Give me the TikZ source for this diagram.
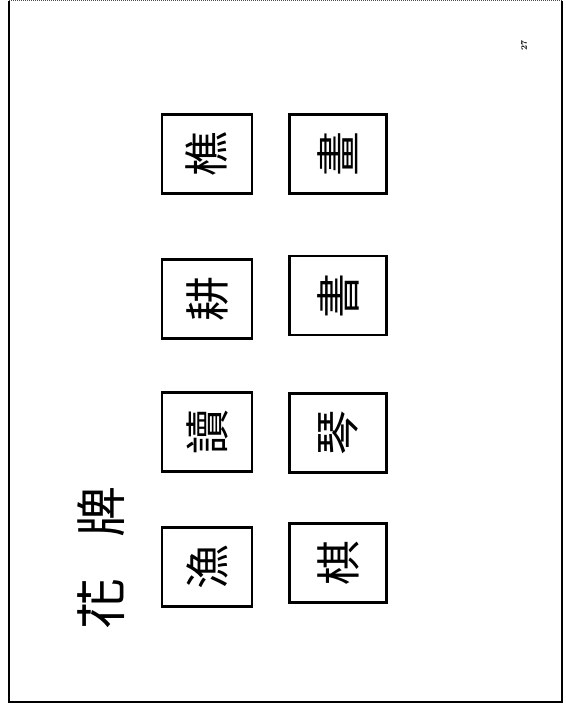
\documentclass[tikz,border=0pt]{standalone}
\usepackage{fontspec}
\newfontfamily\cjk{Noto Sans CJK TC}
\begin{document}
\begin{tikzpicture}[x=1pt,y=1pt,
  card/.style={draw=black, line width=2.2pt, fill=white, inner sep=0pt, rotate=90,
    font=\cjk\fontsize{45}{45}\selectfont},
  cardA/.style={card, minimum width=79pt, minimum height=90pt},
  cardB/.style={card, minimum width=79pt, minimum height=97pt},
  titlech/.style={rotate=90, inner sep=0pt, font=\cjk\fontsize{51}{51}\selectfont},
  pagenum/.style={rotate=90, inner sep=0pt, font=\bfseries\fontsize{8.5}{8.5}\selectfont},
  frame/.style={draw=black, line width=1.6pt}
]
\useasboundingbox (0,0) rectangle (565,-709);
\fill[white] (0,0) rectangle (565,-709);
% page frame
\coordinate (tl) at (9,-0.8);
\coordinate (bl) at (9,-702);
\coordinate (br) at (562,-702);
\coordinate (tr) at (562,-0.8);
\draw[frame] (tl) -- (bl) -- (br) -- (tr);
\draw[black!70, line width=1pt, densely dotted] (tl) -- (tr);
% page number
\node[pagenum] (num) at (524,-45) {27};
% title
\node[titlech] (hua) at (101,-604) {花};
\node[titlech] (pai) at (101,-512) {牌};
% cards, first column
\node[cardA] (yu)   at (207,-567) {漁};
\node[cardA] (du)   at (207,-432) {讀};
\node[cardA] (geng) at (207,-299) {耕};
\node[cardA] (qiao) at (207,-154) {樵};
% cards, second column
\node[cardB] (qi)   at (338,-563) {棋};
\node[cardB] (qin)  at (338,-433) {琴};
\node[cardB] (shu)  at (338,-295.5) {書};
\node[cardB] (hu)   at (338,-154) {畫};
\end{tikzpicture}
\end{document}
